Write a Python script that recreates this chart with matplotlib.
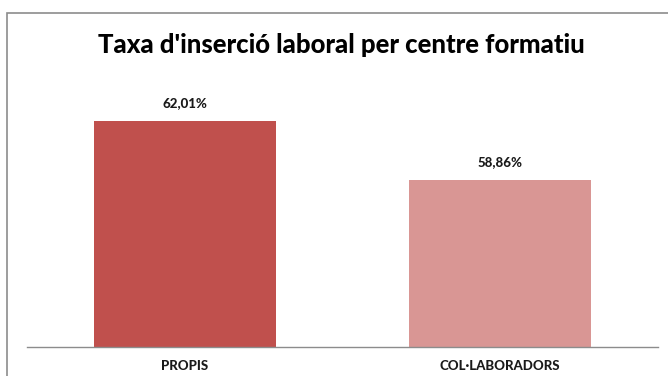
import matplotlib
matplotlib.use("Agg")
import matplotlib.pyplot as plt
from matplotlib.patches import Rectangle

categories = ["PROPIS", "COL·LABORADORS"]
values = [62.01, 58.86]
labels = ["62,01%", "58,86%"]
colors = ["#C0504D", "#D99694"]
title = "Taxa d'inserció laboral per centre formatiu"

plt.rcParams['font.family'] = ['Lato', 'DejaVu Sans']

W, H = 668, 376
fig = plt.figure(figsize=(W/100, H/100), dpi=100)
fig.patch.set_facecolor("white")

# outer chart border (cropped at right and bottom)
fig.add_artist(Rectangle((7/W, -0.05), 1.0, 1 - 13/H + 0.05, transform=fig.transFigure,
                         fill=False, edgecolor="#8C8C8C", linewidth=1.2))

left, right = 27/W, 658/W
bottom, top = 1 - 346.5/H, 1 - 84/H
ax = fig.add_axes([left, bottom, right - left, top - bottom])
x = range(len(categories))
ax.bar(x, values, width=182/315.5, color=colors, zorder=2)
ax.set_xlim(-0.5, 1.5)
ax.set_ylim(50, 64)
for xi, v, lab in zip(x, values, labels):
    ax.annotate(lab, (xi, v), xytext=(0, 9), textcoords="offset points",
                ha="center", va="bottom", fontsize=9.5, fontweight=900, color="#1a1a1a")
ax.set_xticks(list(x))
ax.set_xticklabels(categories, fontsize=9.5, fontweight=900, color="#1a1a1a")
ax.tick_params(axis="x", length=0, pad=10)
ax.set_yticks([])
for s in ["top", "right", "left"]:
    ax.spines[s].set_visible(False)
ax.spines["bottom"].set_color("#8C8C8C")
ax.spines["bottom"].set_linewidth(1.0)

fig.text(341/W, 1 - 45/H, title, ha="center", va="center", fontsize=18.5, fontweight=900, color="black")

fig.savefig("out.png", dpi=100)
